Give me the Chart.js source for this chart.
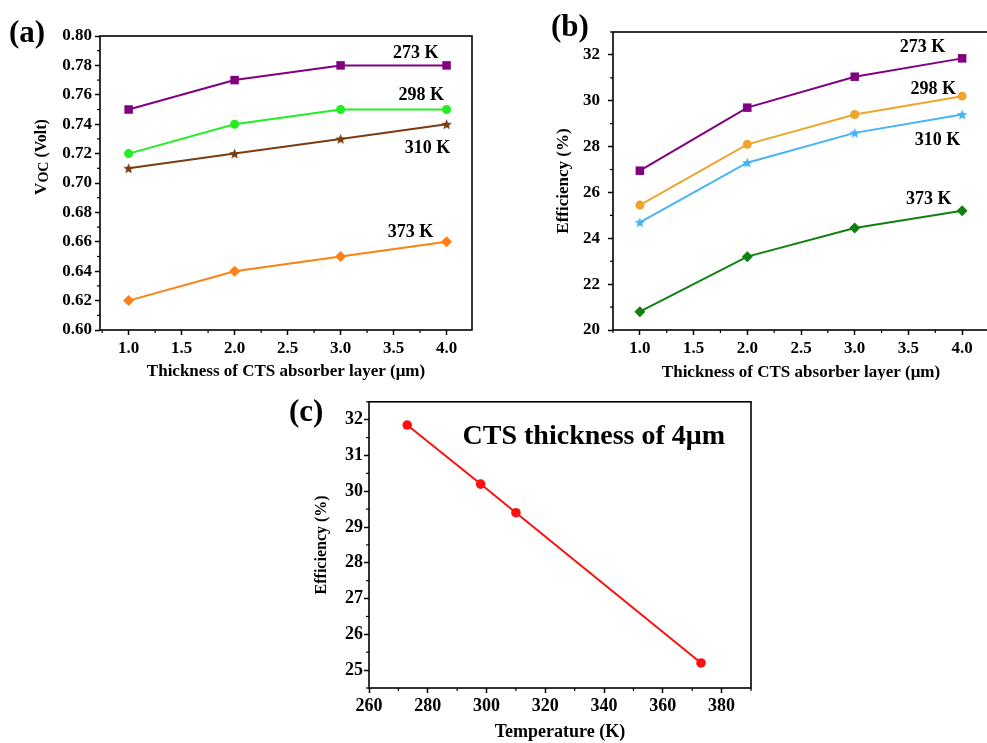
<!DOCTYPE html>
<html><head><meta charset="utf-8">
<script src="https://cdn.jsdelivr.net/npm/chart.js@4.4.1/dist/chart.umd.min.js"></script>
<style>
html,body{margin:0;padding:0;background:#fff;width:987px;height:743px;overflow:hidden;position:relative;}
.panel{position:absolute;}
.panel canvas{display:block;}
.lbl{position:absolute;font-family:'Liberation Serif',serif;font-weight:bold;font-size:31px;color:#000;line-height:1;white-space:nowrap;}
</style></head><body>
<div class="panel" style="left:0;top:0;width:480px;height:380px"><canvas id="ca" width="480" height="380"></canvas></div>
<div class="panel" style="left:480px;top:0;width:520px;height:380px"><canvas id="cb" width="520" height="380"></canvas></div>
<div class="panel" style="left:290px;top:390px;width:470px;height:353px"><canvas id="cc" width="470" height="353"></canvas></div>
<div class="lbl" style="left:9px;top:16px">(a)</div>
<div class="lbl" style="left:551px;top:10px">(b)</div>
<div class="lbl" style="left:289px;top:395px">(c)</div>
<script>
// ---------- data ----------
const thickness = [1.0, 2.0, 3.0, 4.0];
const tempLabels = ['273 K', '298 K', '310 K', '373 K'];
const voc273 = [0.75, 0.77, 0.78, 0.78];
const voc298 = [0.72, 0.74, 0.75, 0.75];
const voc310 = [0.71, 0.72, 0.73, 0.74];
const voc373 = [0.62, 0.64, 0.65, 0.66];
const eff273 = [26.95, 29.7, 31.05, 31.85];
const eff298 = [25.45, 28.1, 29.4, 30.2];
const eff310 = [24.7, 27.3, 28.6, 29.4];
const eff373 = [20.8, 23.2, 24.45, 25.2];
const temperatures = [273, 298, 310, 373];
const eff4um = [31.85, 30.2, 29.4, 25.2];
const thickTicks = [1.0, 1.5, 2.0, 2.5, 3.0, 3.5, 4.0];
const vocTicks = [0.60, 0.62, 0.64, 0.66, 0.68, 0.70, 0.72, 0.74, 0.76, 0.78, 0.80];
const effTicksB = [20, 22, 24, 26, 28, 30, 32];
const tempTicks = [260, 280, 300, 320, 340, 360, 380];
const effTicksC = [25, 26, 27, 28, 29, 30, 31, 32];

// ---------- helpers ----------
const SERIF = "'Liberation Serif', 'Times New Roman', serif";
const pts = (xs, ys) => xs.map((x, i) => ({x: x, y: ys[i]}));

function makeStar(color, r) {
  const s = Math.ceil(r * 2 + 2);
  const c = document.createElement('canvas');
  c.width = s; c.height = s;
  const g = c.getContext('2d');
  g.fillStyle = color;
  g.beginPath();
  for (let i = 0; i < 10; i++) {
    const rad = i % 2 === 0 ? r : r * 0.45;
    const a = -Math.PI / 2 + i * Math.PI / 5;
    const px = s / 2 + rad * Math.cos(a), py = s / 2 + 0.5 + rad * Math.sin(a);
    if (i === 0) g.moveTo(px, py); else g.lineTo(px, py);
  }
  g.closePath(); g.fill();
  return c;
}

function minorOf(ticks, min, max) {
  const out = [];
  const step = ticks[1] - ticks[0];
  const first = ticks[0] - step / 2;
  for (let v = first; v <= max + 1e-9; v += step) {
    if (v >= min - 1e-9) out.push(v);
  }
  return out;
}

const framePlugin = {
  id: 'frame',
  afterDraw(chart) {
    const {ctx, chartArea: a, scales} = chart;
    ctx.save();
    ctx.strokeStyle = '#000';
    ctx.lineWidth = 1.6;
    ctx.strokeRect(a.left, a.top, a.right - a.left, a.bottom - a.top);
    ctx.lineWidth = 1.2;
    const xs = scales.x, ys = scales.y;
    const o = chart.options.plugins.frame || {};
    (o.xMinor || []).forEach(v => {
      const px = xs.getPixelForValue(v);
      if (px < a.left - 0.5 || px > a.right + 0.5) return;
      ctx.beginPath(); ctx.moveTo(px, a.bottom); ctx.lineTo(px, a.bottom + 3); ctx.stroke();
    });
    (o.yMinor || []).forEach(v => {
      const py = ys.getPixelForValue(v);
      if (py < a.top - 0.5 || py > a.bottom + 0.5) return;
      ctx.beginPath(); ctx.moveTo(a.left, py); ctx.lineTo(a.left - 3, py); ctx.stroke();
    });
    // rotated title with subscript parts (used for V_OC)
    if (o.rtitle) {
      const t = o.rtitle;
      ctx.save();
      ctx.translate(t.x, t.y);
      ctx.rotate(-Math.PI / 2);
      ctx.fillStyle = '#000';
      ctx.textBaseline = 'middle';
      ctx.textAlign = 'left';
      let total = 0;
      t.parts.forEach(p => { ctx.font = 'bold ' + p.size + 'px ' + SERIF; total += ctx.measureText(p.text).width; });
      let cx = -total / 2;
      t.parts.forEach(p => {
        ctx.font = 'bold ' + p.size + 'px ' + SERIF;
        ctx.fillText(p.text, cx, p.dy || 0);
        cx += ctx.measureText(p.text).width;
      });
      ctx.restore();
    }
    ctx.restore();
  }
};

const annotPlugin = {
  id: 'annot',
  afterDatasetsDraw(chart) {
    const o = chart.options.plugins.annot;
    if (!o || !o.items) return;
    const {ctx, scales} = chart;
    ctx.save();
    ctx.fillStyle = '#000';
    ctx.textAlign = 'center';
    ctx.textBaseline = 'middle';
    o.items.forEach(it => {
      ctx.font = 'bold ' + (it.size || 18) + 'px ' + SERIF;
      ctx.fillText(it.text, scales.x.getPixelForValue(it.x), scales.y.getPixelForValue(it.y));
    });
    ctx.restore();
  }
};

function ds(label, data, color, style, radius) {
  return {
    label: label, data: data,
    borderColor: color, backgroundColor: color,
    borderWidth: 2, pointStyle: style, pointRadius: radius, pointHoverRadius: radius,
    pointBorderWidth: 0, tension: 0
  };
}

function axis(cfg) {
  return {
    type: 'linear', min: cfg.min, max: cfg.max,
    afterBuildTicks: s => { s.ticks = cfg.ticks.map(v => ({value: v})); },
    afterFit: s => { if (cfg.width !== undefined) s.width = cfg.width; if (cfg.height !== undefined) s.height = cfg.height; },
    ticks: {
      color: '#000', padding: cfg.pad, autoSkip: false, maxRotation: 0,
      font: {family: SERIF, weight: 'bold', size: cfg.tickSize || 17},
      callback: v => Number(v).toFixed(cfg.dec)
    },
    grid: {display: true, drawOnChartArea: false, drawTicks: true, tickLength: 5, tickWidth: 1.5, tickColor: '#000'},
    border: {display: false},
    title: {display: cfg.title !== null, text: cfg.title || '', color: '#000', padding: cfg.titlePad,
      font: {family: SERIF, weight: 'bold', size: cfg.titleSize || 17}}
  };
}

function makeChart(id, datasets, xCfg, yCfg, layoutPad, frame, annot) {
  return new Chart(document.getElementById(id), {
    type: 'line',
    data: {datasets: datasets},
    options: {
      responsive: false, animation: false, devicePixelRatio: 1,
      layout: {padding: layoutPad},
      plugins: {legend: {display: false}, tooltip: {enabled: false}, frame: frame, annot: annot},
      scales: {x: axis(xCfg), y: axis(yCfg)}
    },
    plugins: [framePlugin, annotPlugin]
  });
}

// ---------- (a) ----------
makeChart('ca', [
  ds(tempLabels[0], pts(thickness, voc273), '#800080', 'rect', 6),
  ds(tempLabels[1], pts(thickness, voc298), '#22ee22', 'circle', 4.5),
  ds(tempLabels[2], pts(thickness, voc310), '#7a3c10', makeStar('#7a3c10', 5.5), 5),
  ds(tempLabels[3], pts(thickness, voc373), '#ff8010', 'rectRot', 5.5)
],
  {min: 0.73, max: 4.24, ticks: thickTicks, dec: 1, pad: 3, height: 50, title: 'Thickness of CTS absorber layer (μm)', titlePad: {top: 0, bottom: -2}},
  {min: 0.60, max: 0.80, ticks: vocTicks, dec: 2, pad: 3, width: 100, title: null, titlePad: {top: 0, bottom: 0}},
  {top: 36, right: 8, left: 0, bottom: 0},
  {xMinor: minorOf(thickTicks, 0.73, 4.24), yMinor: minorOf(vocTicks, 0.60, 0.80),
   rtitle: {x: 42, y: 157, parts: [{text: 'V', size: 17}, {text: 'OC', size: 14, dy: 2}, {text: ' (Volt)', size: 16}]}},
  {items: [
    {text: tempLabels[0], x: 3.71, y: 0.788},
    {text: tempLabels[1], x: 3.76, y: 0.7595},
    {text: tempLabels[2], x: 3.82, y: 0.7238},
    {text: tempLabels[3], x: 3.66, y: 0.6667}
  ]}
);

// ---------- (b) ----------
makeChart('cb', [
  ds(tempLabels[0], pts(thickness, eff273), '#800080', 'rect', 6),
  ds(tempLabels[1], pts(thickness, eff298), '#eea52e', 'circle', 4.5),
  ds(tempLabels[2], pts(thickness, eff310), '#45b4f5', makeStar('#45b4f5', 5.5), 5),
  ds(tempLabels[3], pts(thickness, eff373), '#108010', 'rectRot', 5.5)
],
  {min: 0.75, max: 4.25, ticks: thickTicks, dec: 1, pad: 3, height: 50, title: 'Thickness of CTS absorber layer (μm)', titlePad: {top: 0, bottom: -3}},
  {min: 20, max: 33, ticks: effTicksB, dec: 0, pad: 8, width: 133, title: 'Efficiency (%)', titlePad: {top: 73, bottom: 0}},
  {top: 32, right: 11, left: 0, bottom: 0},
  {xMinor: minorOf(thickTicks, 0.75, 4.25), yMinor: minorOf(effTicksB, 20, 33)},
  {items: [
    {text: tempLabels[0], x: 3.63, y: 32.32},
    {text: tempLabels[1], x: 3.73, y: 30.52},
    {text: tempLabels[2], x: 3.77, y: 28.28},
    {text: tempLabels[3], x: 3.69, y: 25.70}
  ]}
);

// ---------- (c) ----------
makeChart('cc', [
  ds('4 μm', pts(temperatures, eff4um), '#ff1010', 'circle', 4.8)
],
  {min: 260, max: 390, ticks: tempTicks, dec: 0, pad: 3, height: 55, tickSize: 18, titleSize: 18, title: 'Temperature (K)', titlePad: {top: 0, bottom: 0}},
  {min: 24.5, max: 32.5, ticks: effTicksC, dec: 0, pad: 1, width: 79, tickSize: 18, titleSize: 16, title: 'Efficiency (%)', titlePad: {top: 22, bottom: 0}},
  {top: 8, right: 9, left: 0, bottom: 0},
  {xMinor: minorOf(tempTicks, 260, 390), yMinor: minorOf(effTicksC, 24.5, 32.5)},
  {items: [
    {text: 'CTS thickness of 4μm', x: 336.5, y: 31.53, size: 28}
  ]}
);
</script>
</body></html>
